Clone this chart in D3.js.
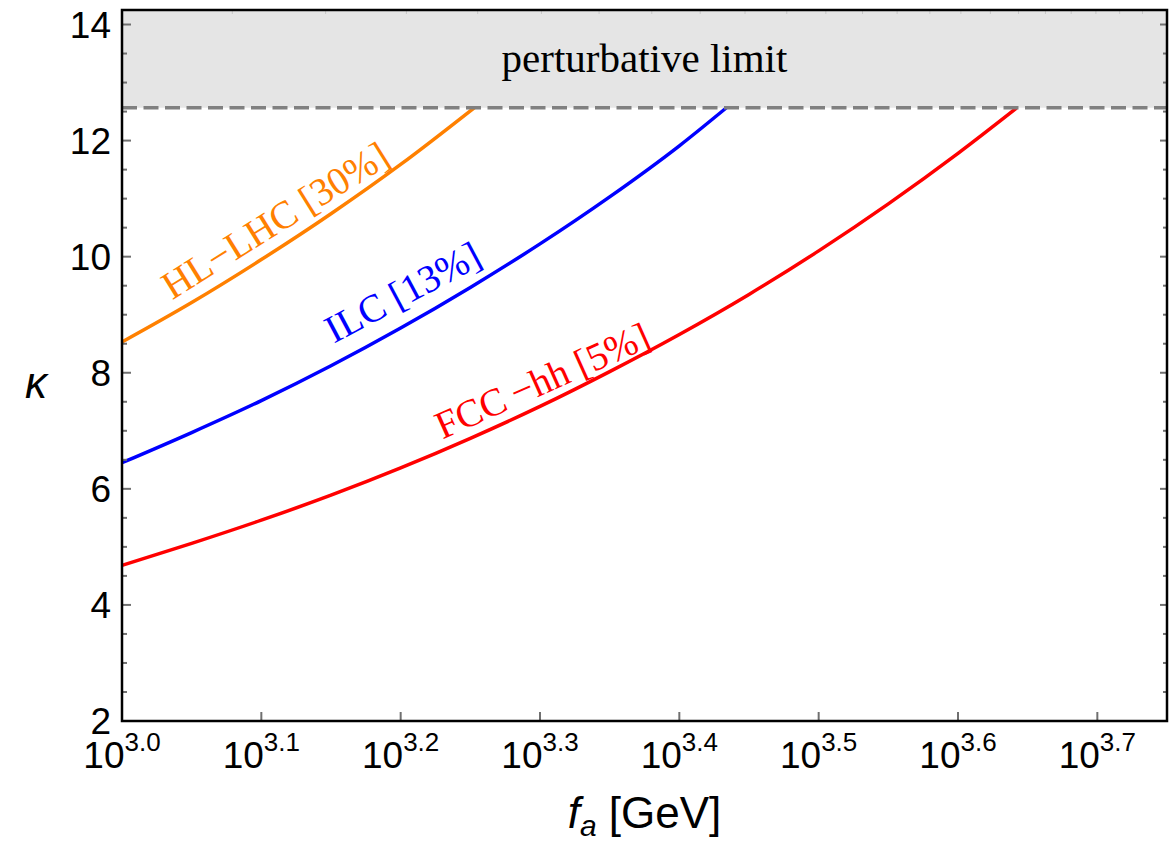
<!DOCTYPE html>
<html>
<head>
<meta charset="utf-8">
<script src="https://cdn.jsdelivr.net/npm/d3@7"></script>
<style>
  body { margin: 0; background: #fff; }
  svg { display: block; }
</style>
</head>
<body>
<div id="chart"></div>
<script>
// f_a exponents (f_a = 10^e GeV) and kappa
const hlExp   = [3.00, 3.05, 3.10, 3.15, 3.20, 3.253];
const hlKappa = [8.53, 9.21, 9.95, 10.74, 11.59, 12.57];

const ilcExp   = [3.00, 3.05, 3.10, 3.15, 3.20, 3.25, 3.30, 3.35, 3.40, 3.434];
const ilcKappa = [6.45, 6.97, 7.52, 8.12, 8.77, 9.47, 10.22, 11.03, 11.91, 12.57];

const fccExp   = [3.00, 3.05, 3.10, 3.15, 3.20, 3.25, 3.30, 3.35, 3.40, 3.45, 3.50, 3.55, 3.60, 3.642];
const fccKappa = [4.68, 5.06, 5.46, 5.89, 6.36, 6.87, 7.42, 8.02, 8.66, 9.35, 10.10, 10.91, 11.78, 12.56];

const xTickExp = [3.0, 3.1, 3.2, 3.3, 3.4, 3.5, 3.6, 3.7];
const yTicks = [2, 4, 6, 8, 10, 12, 14];
const kappaLimit = 4 * Math.PI;

const series = [
  { name: "HL\u2212LHC [30%]", exp: hlExp, kappa: hlKappa, color: "#ff8000",
    labelExp: 3.036, labelKappa: 9.25, angle: -32 },
  { name: "ILC [13%]", exp: ilcExp, kappa: ilcKappa, color: "#0000ff",
    labelExp: 3.152, labelKappa: 8.50, angle: -28 },
  { name: "FCC\u2009\u2212hh [5%]", exp: fccExp, kappa: fccKappa, color: "#ff0000",
    labelExp: 3.230, labelKappa: 6.85, angle: -24 }
];

const width = 1173, height = 848;
const margin = { top: 10, right: 6, bottom: 127, left: 122 };

const svg = d3.select("#chart").append("svg")
  .attr("width", width)
  .attr("height", height);

const x = d3.scaleLog()
  .domain([Math.pow(10, 3.0), Math.pow(10, 3.75)])
  .range([margin.left, width - margin.right]);

const y = d3.scaleLinear()
  .domain([2, 14.25])
  .range([height - margin.bottom, margin.top]);

const x0 = x.range()[0], x1 = x.range()[1];
const y0 = y.range()[0], y1 = y.range()[1];

// perturbative region
svg.append("rect")
  .attr("x", x0)
  .attr("y", y1)
  .attr("width", x1 - x0)
  .attr("height", y(kappaLimit) - y1)
  .attr("fill", "#e5e5e5");

svg.append("text")
  .attr("x", (x0 + x1) / 2)
  .attr("y", 72)
  .attr("text-anchor", "middle")
  .style("font-family", "'Liberation Serif', 'Times New Roman', serif")
  .style("font-size", "41px")
  .text("perturbative limit");

// curves
const line = d3.line()
  .x(d => x(Math.pow(10, d[0])))
  .y(d => y(d[1]))
  .curve(d3.curveMonotoneX);

series.forEach(s => {
  const pts = s.exp.map((e, i) => [e, s.kappa[i]]);
  svg.append("path")
    .attr("d", line(pts))
    .attr("fill", "none")
    .attr("stroke", s.color)
    .attr("stroke-width", 3.5);

  const lx = x(Math.pow(10, s.labelExp)), ly = y(s.labelKappa);
  svg.append("text")
    .attr("transform", `translate(${lx},${ly}) rotate(${s.angle})`)
    .style("font-family", "'Liberation Serif', 'Times New Roman', serif")
    .style("font-size", "39px")
    .attr("fill", s.color)
    .text(s.name);
});

// dashed limit line
svg.append("line")
  .attr("x1", x0).attr("x2", x1)
  .attr("y1", y(kappaLimit)).attr("y2", y(kappaLimit))
  .attr("stroke", "#808080")
  .attr("stroke-width", 3.5)
  .attr("stroke-dasharray", "15,6.5");

// ticks
const tickColor = "#707070";
const g = svg.append("g");

const yMinor = d3.range(2, 14.01, 0.5);
yMinor.forEach(v => {
  const major = Math.abs(v - Math.round(v)) < 1e-6 && Math.round(v) % 2 === 0;
  g.append("line")
    .attr("x1", x0).attr("x2", x0 + (major ? 9 : 5))
    .attr("y1", y(v)).attr("y2", y(v))
    .attr("stroke", tickColor).attr("stroke-width", 2);
  g.append("line")
    .attr("x1", x1).attr("x2", x1 - (major ? 7 : 4))
    .attr("y1", y(v)).attr("y2", y(v))
    .attr("stroke", tickColor).attr("stroke-width", 2);
});

xTickExp.forEach(e => {
  const xv = x(Math.pow(10, e));
  g.append("line")
    .attr("x1", xv).attr("x2", xv)
    .attr("y1", y0).attr("y2", y0 - 9)
    .attr("stroke", tickColor).attr("stroke-width", 2);
});

// faint top-frame ticks
d3.range(1200, 5401, 200).forEach(v => {
  g.append("line")
    .attr("x1", x(v)).attr("x2", x(v))
    .attr("y1", y1).attr("y2", y1 + 4)
    .attr("stroke", "#c8c8c8").attr("stroke-width", 1);
});

// frame
svg.append("rect")
  .attr("x", x0).attr("y", y1)
  .attr("width", x1 - x0).attr("height", y0 - y1)
  .attr("fill", "none")
  .attr("stroke", "#000")
  .attr("stroke-width", 2.5);

// tick labels
const sans = "'Liberation Sans', Arial, sans-serif";

svg.selectAll(".ylab")
  .data(yTicks)
  .enter().append("text")
  .attr("class", "ylab")
  .attr("x", x0 - 11)
  .attr("y", d => y(d))
  .attr("dy", "0.36em")
  .attr("text-anchor", "end")
  .style("font-family", sans)
  .style("font-size", "37px")
  .text(d => d);

const xl = svg.selectAll(".xlab")
  .data(xTickExp)
  .enter().append("text")
  .attr("class", "xlab")
  .attr("x", d => x(Math.pow(10, d)))
  .attr("y", 768)
  .attr("text-anchor", "middle")
  .style("font-family", sans)
  .style("font-size", "37px");
xl.append("tspan").text("10");
xl.append("tspan")
  .attr("dy", -17)
  .style("font-size", "26px")
  .text(d => d.toFixed(1));

// axis titles
const xt = svg.append("text")
  .attr("x", (x0 + x1) / 2)
  .attr("y", 828)
  .attr("text-anchor", "middle")
  .style("font-family", sans)
  .style("font-size", "44px");
xt.append("tspan").style("font-style", "italic").text("f");
xt.append("tspan").style("font-style", "italic").style("font-size", "30px")
  .attr("dy", 8).text("a");
xt.append("tspan").attr("dy", -8).text(" [GeV]");

svg.append("text")
  .attr("x", 36)
  .attr("y", 382)
  .attr("dy", "0.36em")
  .attr("text-anchor", "middle")
  .style("font-family", sans)
  .style("font-style", "italic")
  .style("font-size", "44px")
  .text("\u03ba");
</script>
</body>
</html>
